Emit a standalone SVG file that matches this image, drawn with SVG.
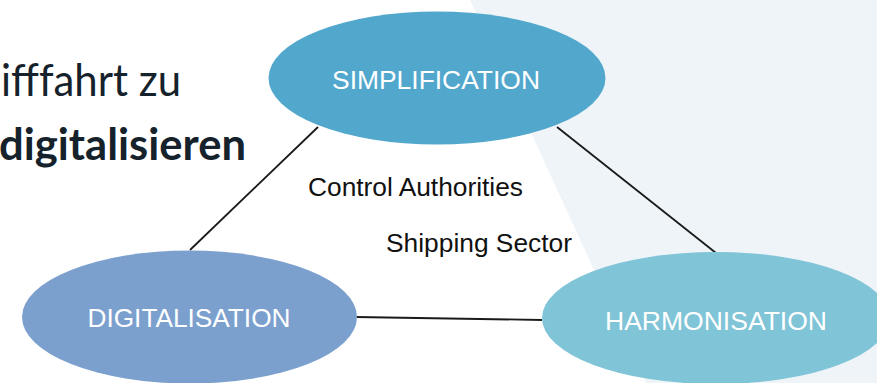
<svg xmlns="http://www.w3.org/2000/svg" width="877" height="383" viewBox="0 0 877 383">
  <style>
    .bg { fill: #eef4f8; }
    .head { font-family: Lato, "Open Sans", "Liberation Sans", sans-serif; fill: #16222b; font-size: 44px; }
    .label { font-family: "Liberation Sans", Arial, sans-serif; font-size: 26px; fill: #ffffff; text-anchor: middle; }
    .note { font-family: "Liberation Sans", Arial, sans-serif; font-size: 25px; fill: #111111; }
    .edge { stroke: #1a1a1a; stroke-width: 1.8; fill: none; }
  </style>
  <rect x="0" y="0" width="877" height="383" fill="#ffffff"/>
  <polygon class="bg" points="470,0 877,0 877,383 646,383"/>

  <g id="heading">
    <text class="head" x="1" y="96" textLength="180" lengthAdjust="spacingAndGlyphs">ifffahrt zu</text>
    <text class="head" x="-1" y="160" font-weight="bold" textLength="247" lengthAdjust="spacingAndGlyphs">digitalisieren</text>
  </g>

  <g id="connectors">
    <line class="edge" x1="318" y1="127" x2="190" y2="250"/>
    <line class="edge" x1="557" y1="127" x2="716" y2="253"/>
    <line class="edge" x1="356" y1="317" x2="542" y2="320"/>
  </g>

  <g id="simplification">
    <ellipse cx="437" cy="78" rx="168.5" ry="66.5" fill="#52a7cd"/>
    <text class="label" x="436" y="89" textLength="208" lengthAdjust="spacingAndGlyphs">SIMPLIFICATION</text>
  </g>

  <g id="digitalisation">
    <ellipse cx="189.5" cy="317" rx="167.5" ry="66.5" fill="#7ba0ce"/>
    <text class="label" x="189" y="327" textLength="203" lengthAdjust="spacingAndGlyphs">DIGITALISATION</text>
  </g>

  <g id="harmonisation">
    <ellipse cx="716" cy="318" rx="174" ry="66" fill="#80c4d7"/>
    <text class="label" x="716" y="330" textLength="222" lengthAdjust="spacingAndGlyphs">HARMONISATION</text>
  </g>

  <g id="control-authorities">
    <text class="note" x="308" y="196" textLength="215" lengthAdjust="spacingAndGlyphs">Control Authorities</text>
  </g>

  <g id="shipping-sector">
    <text class="note" x="386" y="252" textLength="186" lengthAdjust="spacingAndGlyphs">Shipping Sector</text>
  </g>
</svg>
